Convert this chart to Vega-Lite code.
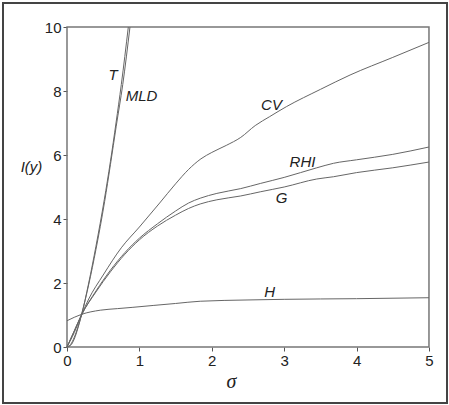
{
  "$schema": "https://vega.github.io/schema/vega-lite/v6.json",
  "width": 444,
  "height": 400,
  "padding": {"left": 3, "top": 3, "right": 2, "bottom": 2},
  "autosize": {"type": "none"},
  "background": "white",
  "config": {
    "view": {"stroke": "#444", "strokeWidth": 2},
    "font": "Liberation Sans"
  },
  "datasets": {
    "curves": [
      {"s": "H", "sigma": 0, "I": 0.82}, {"s": "H", "sigma": 0.2, "I": 1.02}, {"s": "H", "sigma": 0.46, "I": 1.15}, {"s": "H", "sigma": 0.7, "I": 1.2}, {"s": "H", "sigma": 0.91, "I": 1.24}, {"s": "H", "sigma": 1.2, "I": 1.3}, {"s": "H", "sigma": 1.5, "I": 1.36}, {"s": "H", "sigma": 1.84, "I": 1.43}, {"s": "H", "sigma": 2.5, "I": 1.47}, {"s": "H", "sigma": 3, "I": 1.49}, {"s": "H", "sigma": 4, "I": 1.51}, {"s": "H", "sigma": 5, "I": 1.54},
      {"s": "T", "sigma": 0, "I": 0}, {"s": "T", "sigma": 0.05, "I": 0.08}, {"s": "T", "sigma": 0.1, "I": 0.3}, {"s": "T", "sigma": 0.15, "I": 0.62}, {"s": "T", "sigma": 0.2, "I": 1.0}, {"s": "T", "sigma": 0.3, "I": 2.0}, {"s": "T", "sigma": 0.4, "I": 3.15}, {"s": "T", "sigma": 0.515, "I": 4.6}, {"s": "T", "sigma": 0.6, "I": 5.8}, {"s": "T", "sigma": 0.677, "I": 7.0}, {"s": "T", "sigma": 0.75, "I": 8.2}, {"s": "T", "sigma": 0.847, "I": 10},
      {"s": "MLD", "sigma": 0, "I": 0}, {"s": "MLD", "sigma": 0.05, "I": 0.05}, {"s": "MLD", "sigma": 0.1, "I": 0.25}, {"s": "MLD", "sigma": 0.15, "I": 0.58}, {"s": "MLD", "sigma": 0.2, "I": 1.0}, {"s": "MLD", "sigma": 0.3, "I": 1.95}, {"s": "MLD", "sigma": 0.4, "I": 3.05}, {"s": "MLD", "sigma": 0.52, "I": 4.55}, {"s": "MLD", "sigma": 0.6, "I": 5.7}, {"s": "MLD", "sigma": 0.68, "I": 6.9}, {"s": "MLD", "sigma": 0.77, "I": 8.2}, {"s": "MLD", "sigma": 0.87, "I": 10},
      {"s": "CV", "sigma": 0, "I": 0}, {"s": "CV", "sigma": 0.1, "I": 0.45}, {"s": "CV", "sigma": 0.2, "I": 1.0}, {"s": "CV", "sigma": 0.3, "I": 1.5}, {"s": "CV", "sigma": 0.5, "I": 2.25}, {"s": "CV", "sigma": 0.75, "I": 3.1}, {"s": "CV", "sigma": 1.0, "I": 3.75}, {"s": "CV", "sigma": 1.28, "I": 4.5}, {"s": "CV", "sigma": 1.5, "I": 5.1}, {"s": "CV", "sigma": 1.68, "I": 5.55}, {"s": "CV", "sigma": 1.85, "I": 5.88}, {"s": "CV", "sigma": 2.0, "I": 6.08}, {"s": "CV", "sigma": 2.2, "I": 6.3}, {"s": "CV", "sigma": 2.4, "I": 6.55}, {"s": "CV", "sigma": 2.6, "I": 6.92}, {"s": "CV", "sigma": 2.8, "I": 7.2}, {"s": "CV", "sigma": 3.03, "I": 7.51}, {"s": "CV", "sigma": 3.5, "I": 8.05}, {"s": "CV", "sigma": 3.91, "I": 8.5}, {"s": "CV", "sigma": 4.5, "I": 9.05}, {"s": "CV", "sigma": 5, "I": 9.52},
      {"s": "RHI", "sigma": 0, "I": 0}, {"s": "RHI", "sigma": 0.1, "I": 0.5}, {"s": "RHI", "sigma": 0.2, "I": 1.0}, {"s": "RHI", "sigma": 0.4, "I": 1.75}, {"s": "RHI", "sigma": 0.6, "I": 2.4}, {"s": "RHI", "sigma": 0.8, "I": 2.95}, {"s": "RHI", "sigma": 1.0, "I": 3.4}, {"s": "RHI", "sigma": 1.25, "I": 3.85}, {"s": "RHI", "sigma": 1.5, "I": 4.25}, {"s": "RHI", "sigma": 1.68, "I": 4.5}, {"s": "RHI", "sigma": 1.84, "I": 4.65}, {"s": "RHI", "sigma": 2.07, "I": 4.8}, {"s": "RHI", "sigma": 2.4, "I": 4.95}, {"s": "RHI", "sigma": 2.67, "I": 5.11}, {"s": "RHI", "sigma": 3.0, "I": 5.3}, {"s": "RHI", "sigma": 3.45, "I": 5.6}, {"s": "RHI", "sigma": 3.68, "I": 5.74}, {"s": "RHI", "sigma": 4.0, "I": 5.85}, {"s": "RHI", "sigma": 4.5, "I": 6.02}, {"s": "RHI", "sigma": 5, "I": 6.25},
      {"s": "G", "sigma": 0, "I": 0}, {"s": "G", "sigma": 0.1, "I": 0.5}, {"s": "G", "sigma": 0.2, "I": 1.0}, {"s": "G", "sigma": 0.4, "I": 1.72}, {"s": "G", "sigma": 0.6, "I": 2.35}, {"s": "G", "sigma": 0.8, "I": 2.9}, {"s": "G", "sigma": 1.0, "I": 3.35}, {"s": "G", "sigma": 1.25, "I": 3.78}, {"s": "G", "sigma": 1.5, "I": 4.12}, {"s": "G", "sigma": 1.68, "I": 4.33}, {"s": "G", "sigma": 1.84, "I": 4.47}, {"s": "G", "sigma": 2.07, "I": 4.6}, {"s": "G", "sigma": 2.4, "I": 4.72}, {"s": "G", "sigma": 2.67, "I": 4.85}, {"s": "G", "sigma": 3.0, "I": 5.0}, {"s": "G", "sigma": 3.45, "I": 5.25}, {"s": "G", "sigma": 3.68, "I": 5.32}, {"s": "G", "sigma": 4.0, "I": 5.45}, {"s": "G", "sigma": 4.5, "I": 5.6}, {"s": "G", "sigma": 5, "I": 5.78}
    ],
    "labels": [
      {"label": "T", "sigma": 0.635, "I": 8.5},
      {"label": "MLD", "sigma": 1.029, "I": 7.83},
      {"label": "CV", "sigma": 2.825, "I": 7.56},
      {"label": "RHI", "sigma": 3.253, "I": 5.78},
      {"label": "G", "sigma": 2.963, "I": 4.67},
      {"label": "H", "sigma": 2.8, "I": 1.72}
    ],
    "frame": [{"x0": 0, "x1": 5, "y0": 0, "y1": 10}]
  },
  "layer": [
    {
      "data": {"name": "frame"},
      "mark": {"type": "rect", "filled": false, "stroke": "#777", "strokeWidth": 1.5},
      "encoding": {
        "x": {"field": "x0", "type": "quantitative", "scale": {"domain": [-0.884, 5.249], "nice": false, "zero": false},
          "axis": {"orient": "bottom", "offset": -56, "values": [0, 1, 2, 3, 4, 5], "format": "d", "domain": false, "grid": false, "tickSize": 4, "tickColor": "#555", "labelFontSize": 15, "labelColor": "#222", "labelPadding": 2, "labelFont": "Liberation Sans",
            "title": "σ", "titleFont": "Liberation Serif", "titleFontStyle": "italic", "titleFontWeight": "normal", "titleFontSize": 20, "titleColor": "#222", "titleX": 228, "titleY": 34, "titleBaseline": "middle", "titleAlign": "center"}},
        "x2": {"field": "x1"},
        "y": {"field": "y0", "type": "quantitative", "scale": {"domain": [-1.75, 10.75], "nice": false, "zero": false},
          "axis": {"orient": "left", "offset": -64, "values": [0, 2, 4, 6, 8, 10], "format": "d", "domain": false, "grid": false, "tickSize": 4, "tickColor": "#555", "labelFontSize": 15, "labelColor": "#222", "labelPadding": 2, "labelFont": "Liberation Sans",
            "title": "I(y)", "titleAngle": 0, "titleFont": "Liberation Sans", "titleFontStyle": "italic", "titleFontWeight": "normal", "titleFontSize": 15, "titleColor": "#222", "titleX": -36, "titleY": 163, "titleBaseline": "middle", "titleAlign": "center"}},
        "y2": {"field": "y1"}
      }
    },
    {
      "data": {"name": "curves"},
      "mark": {"type": "line", "stroke": "#666", "strokeWidth": 1, "interpolate": "monotone"},
      "encoding": {
        "x": {"field": "sigma", "type": "quantitative"},
        "y": {"field": "I", "type": "quantitative"},
        "detail": {"field": "s"}
      }
    },
    {
      "data": {"name": "labels"},
      "mark": {"type": "text", "fontStyle": "italic", "fontSize": 15, "font": "Liberation Sans", "color": "#222", "align": "center", "baseline": "middle"},
      "encoding": {
        "x": {"field": "sigma", "type": "quantitative"},
        "y": {"field": "I", "type": "quantitative"},
        "text": {"field": "label"}
      }
    }
  ]
}
